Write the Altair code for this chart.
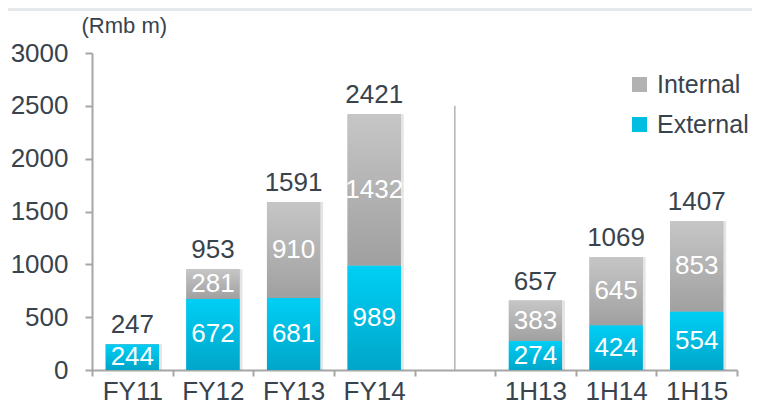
import altair as alt
import pandas as pd

categories = ["FY11", "FY12", "FY13", "FY14", "1H13", "1H14", "1H15"]
external = [244, 672, 681, 989, 274, 424, 554]
internal = [3, 281, 910, 1432, 383, 645, 853]
totals = [247, 953, 1591, 2421, 657, 1069, 1407]
x_domain = ["FY11", "FY12", "FY13", "FY14", " ", "1H13", "1H14", "1H15"]
separator_cat = [" "]
separator_top = [2500]
y_ticks = [0, 500, 1000, 1500, 2000, 2500, 3000]

FONT = "Liberation Sans"
TXT = "#38434d"
AX = "#a6a6a6"
FS = 26

df = pd.DataFrame({"cat": categories, "ext": external, "int": internal, "tot": totals})
long_rows = []
for c, e, i in zip(categories, external, internal):
    long_rows.append({"cat": c, "series": "External", "lo": 0, "hi": e})
    long_rows.append({"cat": c, "series": "Internal", "lo": e, "hi": e + i})
long = pd.DataFrame(long_rows)
sep = pd.DataFrame({"cat": separator_cat, "top": separator_top, "bot": [0]})

xenc = alt.X(
    "cat:N",
    sort=x_domain,
    scale=alt.Scale(domain=x_domain, paddingInner=0, paddingOuter=0),
    axis=alt.Axis(
        title=None, tickBand="extent", labelFontSize=FS, labelFont=FONT,
        labelColor=TXT, labelPadding=23, tickSize=6, tickColor=AX,
        domainColor=AX, domainWidth=2, tickWidth=2, labelAngle=0,
        labelAlign="center", labelBaseline="alphabetic",
    ),
)
yscale = alt.Scale(domain=[0, 3000], nice=False)
yenc = alt.Y(
    "lo:Q",
    scale=yscale,
    axis=alt.Axis(
        values=y_ticks, format="d", title="(Rmb m)", titleAngle=0, titleAlign="left",
        titleBaseline="middle", titleX=-11, titleY=-28, titleFontSize=22,
        titleFont=FONT, titleFontWeight="normal", titleColor=TXT,
        labelFontSize=FS, labelFont=FONT, labelColor=TXT, labelPadding=17,
        tickSize=7, tickColor=AX, domainColor=AX, domainWidth=2, tickWidth=2,
        grid=False,
    ),
)

def grad(top, bottom):
    return alt.Gradient(
        gradient="linear",
        stops=[alt.GradientStop(color=top, offset=0), alt.GradientStop(color=bottom, offset=1)],
        x1=0, x2=0, y1=0, y2=1,
    )

bw = alt.RelativeBandSize(0.66)
base = alt.Chart(long)

header = alt.Chart(sep).mark_rect(color="#e6e9eb", clip=False).encode(
    x=alt.value(-84), x2=alt.value(760), y=alt.value(-45), y2=alt.value(-42)
)

separator = alt.Chart(sep).mark_rule(color="#b3b3b3", strokeWidth=1.5).encode(
    x=alt.X("cat:N", sort=x_domain), y=alt.Y("top:Q", scale=yscale), y2="bot:Q"
)

shadow = base.mark_bar(width=bw, color="#000000", opacity=0.10, xOffset=3).encode(
    x=xenc, y=yenc, y2="hi:Q"
)

legend_bars = base.mark_bar(width=bw).encode(
    x=xenc, y=yenc, y2="hi:Q",
    color=alt.Color(
        "series:N",
        scale=alt.Scale(domain=["Internal", "External"], range=["#b2b2b2", "#00bde2"]),
        legend=alt.Legend(
            title=None, orient="none", legendX=535, legendY=19, labelFontSize=25,
            labelFont=FONT, labelColor=TXT, symbolType="square", symbolSize=225,
            symbolStrokeWidth=0, rowPadding=14, labelOffset=5, labelLimit=300,
        ),
    ),
)

ext_bars = base.transform_filter(alt.datum.series == "External").mark_bar(
    width=bw, color=grad("#00cff5", "#00a6c9")
).encode(x=xenc, y=yenc, y2="hi:Q")

int_bars = base.transform_filter(alt.datum.series == "Internal").mark_bar(
    width=bw, color=grad("#c6c6c6", "#a0a0a0")
).encode(x=xenc, y=yenc, y2="hi:Q")

tbase = alt.Chart(df)
tot_text = tbase.mark_text(
    fontSize=FS, font=FONT, color=TXT, baseline="alphabetic", dy=-11
).encode(x=alt.X("cat:N", sort=x_domain), y=alt.Y("tot:Q", scale=yscale), text="tot:Q")

ext_text = tbase.transform_calculate(mid="datum.ext / 2").mark_text(
    fontSize=FS, font=FONT, color="white", baseline="middle"
).encode(x=alt.X("cat:N", sort=x_domain), y=alt.Y("mid:Q", scale=yscale), text="ext:Q")

int_text = tbase.transform_filter(alt.datum.int > 50).transform_calculate(
    mid="datum.ext + datum.int / 2"
).mark_text(fontSize=FS, font=FONT, color="white", baseline="middle").encode(
    x=alt.X("cat:N", sort=x_domain), y=alt.Y("mid:Q", scale=yscale), text="int:Q"
)

chart = alt.layer(
    header, separator, shadow, legend_bars, ext_bars, int_bars, tot_text, ext_text, int_text
).properties(
    width=645, height=317,
    autosize=alt.AutoSizeParams(type="none"),
    padding={"left": 84, "top": 45, "right": 15, "bottom": 35},
).configure_view(stroke=None)

chart.save("out.html", embed_options={"renderer": "svg", "actions": False})
